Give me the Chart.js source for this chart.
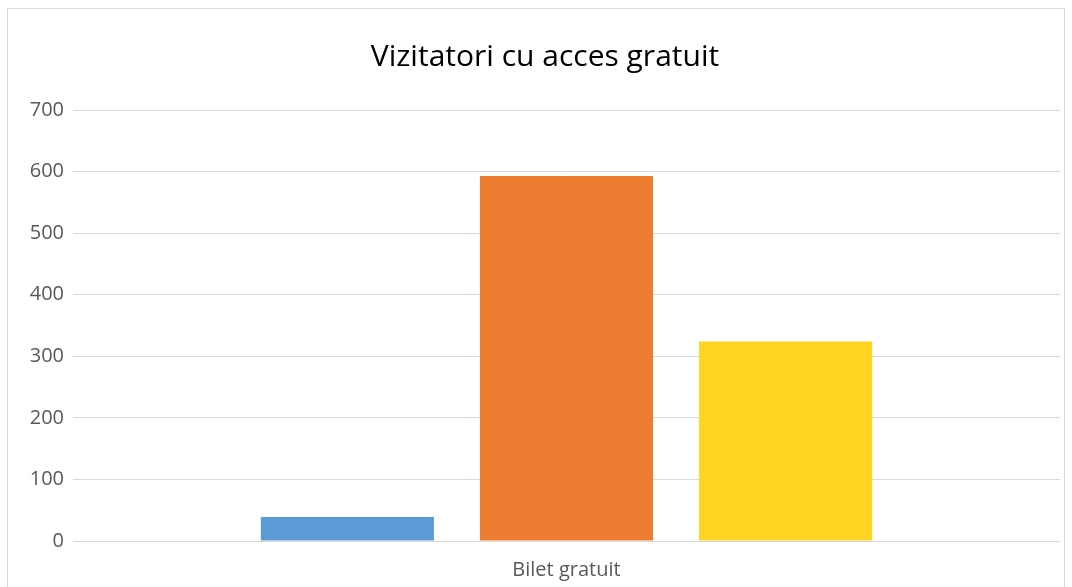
<!DOCTYPE html>
<html>
<head>
<meta charset="utf-8">
<script src="https://cdn.jsdelivr.net/npm/chart.js@4"></script>
<style>
    html, body { margin: 0; padding: 0; background: #fff; overflow: hidden; }
    #frame {
        position: absolute; left: 7px; top: 8px;
        width: 1056px; height: 600px;
        border: 1px solid #d9d9d9;
    }
    canvas { display: block; }
</style>
</head>
<body>
<div id="frame"><canvas id="freeChart" width="1056" height="578"></canvas></div>
<script>
// Date
const categories = ['Bilet gratuit'];
const seriesA = [39];
const seriesB = [593];
const seriesC = [324];
const yTicks = [0, 100, 200, 300, 400, 500, 600, 700];

const ctx = document.getElementById('freeChart').getContext('2d');
new Chart(ctx, {
    type: 'bar',
    data: {
        labels: categories,
        datasets: [
            { label: 'Seria 1', data: seriesA, backgroundColor: '#5b9bd5' },
            { label: 'Seria 2', data: seriesB, backgroundColor: '#ed7d31' },
            { label: 'Seria 3', data: seriesC, backgroundColor: '#ffd320' }
        ]
    },
    options: {
        responsive: false,
        animation: false,
        categoryPercentage: 0.666,
        barPercentage: 0.79,
        layout: { padding: { left: 22, right: 4, top: 0, bottom: 0 } },
        plugins: {
            legend: { display: false },
            tooltip: { enabled: false },
            title: {
                display: true,
                text: 'Vizitatori cu acces gratuit',
                color: '#000',
                font: { family: 'Open Sans', size: 30, weight: 'normal' },
                padding: { top: 30, bottom: 35 }
            }
        },
        scales: {
            x: {
                grid: { display: false, drawTicks: false },
                border: { display: false },
                afterFit: (axis) => { axis.height = 46; },
                ticks: {
                    color: '#595959',
                    font: { family: 'Open Sans', size: 20 },
                    padding: 17
                }
            },
            y: {
                min: 0,
                max: yTicks[yTicks.length - 1],
                afterBuildTicks: (axis) => { axis.ticks = yTicks.map(v => ({ value: v })); },
                afterFit: (axis) => { axis.width = 43; },
                grid: { color: '#d9d9d9', lineWidth: 1, drawTicks: false },
                border: { display: false },
                ticks: {
                    color: '#595959',
                    font: { family: 'Open Sans', size: 20 },
                    padding: 9
                }
            }
        }
    }
});
</script>
</body>
</html>
